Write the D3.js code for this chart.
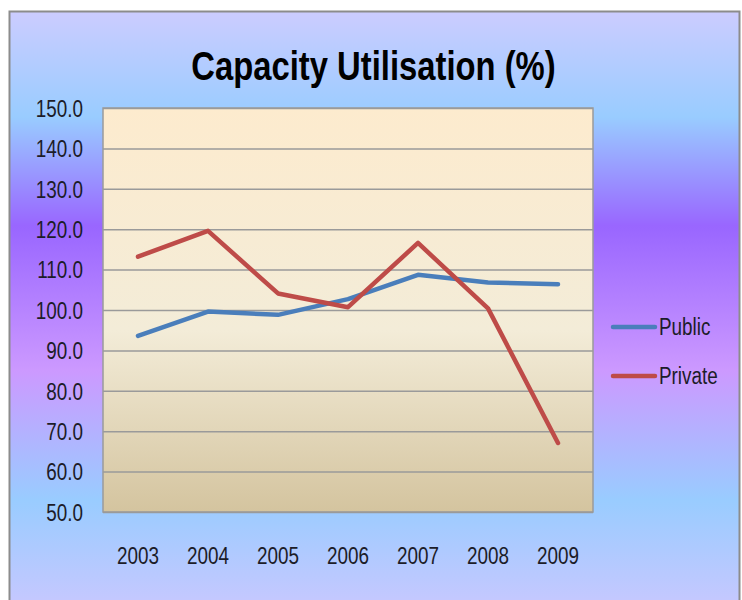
<!DOCTYPE html>
<html>
<head>
<meta charset="utf-8">
<script src="https://cdn.jsdelivr.net/npm/d3@7"></script>
<style>
  body { margin: 0; background: #fff; }
  svg text { font-family: "Liberation Sans", Arial, sans-serif; fill: #1c1c28; }
</style>
</head>
<body>
<div id="chart"></div>
<script>
const years = ["2003", "2004", "2005", "2006", "2007", "2008", "2009"];
const publicValues = [93.6, 99.6, 98.8, 102.7, 108.7, 106.8, 106.4];
const privateValues = [113.2, 119.6, 104.1, 100.7, 116.6, 100.4, 67.1];
const yTicks = [50, 60, 70, 80, 90, 100, 110, 120, 130, 140, 150];

const series = [
  { name: "Public", values: publicValues, color: "#4a7ebb" },
  { name: "Private", values: privateValues, color: "#be4b48" }
];

const W = 742, H = 600;
const plot = { left: 103, right: 593, top: 108, bottom: 512 };
const squeeze = 0.82; // narrow the sans face so it reads like the original

const svg = d3.select('#chart').append('svg')
  .attr('width', W)
  .attr('height', H);

const defs = svg.append('defs');

const bg = defs.append('linearGradient')
  .attr('id', 'bg')
  .attr('gradientUnits', 'userSpaceOnUse')
  .attr('x1', 0).attr('y1', 11).attr('x2', 0).attr('y2', 600);
[[0, '#ccccff'], [0.18, '#99ccff'], [0.365, '#9966ff'], [0.61, '#cc99ff'], [0.83, '#99ccff'], [1, '#c4c8ff']]
  .forEach(s => bg.append('stop').attr('offset', s[0]).attr('stop-color', s[1]));

const pg = defs.append('linearGradient')
  .attr('id', 'pg')
  .attr('x1', 0).attr('y1', 0).attr('x2', 0).attr('y2', 1);
[[0, '#fdebce'], [0.55, '#f3ecd8'], [1, '#d4c49f']]
  .forEach(s => pg.append('stop').attr('offset', s[0]).attr('stop-color', s[1]));

// outer chart area
svg.append('rect')
  .attr('x', 9.5).attr('y', 11.5)
  .attr('width', 730).attr('height', 600)
  .attr('fill', 'url(#bg)')
  .attr('stroke', '#8c8c8c')
  .attr('stroke-width', 2);

svg.append('g')
  .attr('transform', 'translate(373.5, 80)')
  .append('text')
  .attr('transform', `scale(${squeeze}, 1)`)
  .attr('text-anchor', 'middle')
  .style('font-size', '40px')
  .style('font-weight', 'bold')
  .style('fill', '#000')
  .text('Capacity Utilisation (%)');

const xScale = d3.scaleBand()
  .domain(years)
  .range([plot.left, plot.right]);

const yScale = d3.scaleLinear()
  .domain([50, 150])
  .range([plot.bottom, plot.top]);

svg.append('rect')
  .attr('x', plot.left).attr('y', plot.top)
  .attr('width', plot.right - plot.left)
  .attr('height', plot.bottom - plot.top)
  .attr('fill', 'url(#pg)')
  .attr('stroke', '#9a9a9a')
  .attr('stroke-width', 1.5);

// gridlines
svg.append('g')
  .attr('class', 'grid')
  .attr('transform', `translate(${plot.left}, 0)`)
  .call(d3.axisLeft(yScale)
    .tickValues(yTicks)
    .tickSize(-(plot.right - plot.left))
    .tickFormat('')
  )
  .call(g => g.select('.domain').remove())
  .call(g => g.selectAll('line').attr('stroke', '#9a9a9a').attr('stroke-width', 1.5));

// y labels
svg.append('g')
  .attr('transform', `translate(${plot.left}, 0)`)
  .call(d3.axisLeft(yScale).tickValues(yTicks).tickSize(0).tickPadding(20).tickFormat(d3.format('.1f')))
  .call(g => g.select('.domain').remove())
  .call(g => g.selectAll('text')
    .attr('x', -20 / squeeze)
    .attr('dy', '0.36em')
    .attr('transform', `scale(${squeeze}, 1)`)
    .style('font-size', '23px')
    .style('font-family', '"Liberation Sans", Arial, sans-serif')
    .style('fill', '#1c1c28'));

// x labels
svg.append('g')
  .attr('transform', `translate(0, ${plot.bottom})`)
  .call(d3.axisBottom(xScale).tickSize(0).tickPadding(36))
  .call(g => g.select('.domain').remove())
  .call(g => g.selectAll('text')
    .attr('transform', `scale(${squeeze}, 1)`)
    .style('font-size', '23px')
    .style('font-family', '"Liberation Sans", Arial, sans-serif')
    .style('fill', '#1c1c28'));

const line = d3.line()
  .x((d, i) => xScale(years[i]) + xScale.bandwidth() / 2)
  .y(d => yScale(d));

svg.selectAll('.series')
  .data(series)
  .enter()
  .append('path')
  .attr('class', 'series')
  .attr('d', d => line(d.values))
  .attr('fill', 'none')
  .attr('stroke', d => d.color)
  .attr('stroke-width', 4.5)
  .attr('stroke-linejoin', 'round')
  .attr('stroke-linecap', 'round');

// legend
const legend = svg.selectAll('.legend')
  .data(series)
  .enter()
  .append('g')
  .attr('class', 'legend')
  .attr('transform', (d, i) => `translate(613, ${327 + i * 49})`);

legend.append('line')
  .attr('x1', 0).attr('x2', 42)
  .attr('stroke', d => d.color)
  .attr('stroke-width', 4.5)
  .attr('stroke-linecap', 'round');

legend.append('g')
  .attr('transform', 'translate(46, 8)')
  .append('text')
  .attr('transform', `scale(${squeeze}, 1)`)
  .style('font-size', '23px')
  .text(d => d.name);
</script>
</body>
</html>
